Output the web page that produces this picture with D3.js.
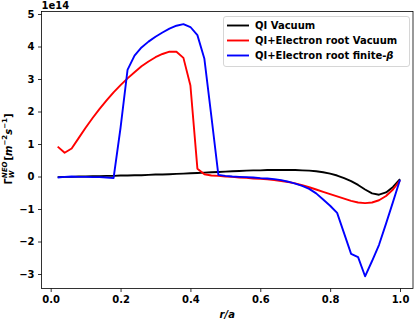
<!DOCTYPE html>
<html>
<head>
<meta charset="utf-8">
<script src="https://cdn.jsdelivr.net/npm/d3@7"></script>
<style>
  body { margin: 0; background: #fff; }
  svg text { font-family: "DejaVu Sans", sans-serif; font-weight: bold; }
</style>
</head>
<body>
<div id="chart"></div>
<script>
// r/a grid
var rVals = [0.02, 0.04, 0.06, 0.08, 0.10, 0.12, 0.14, 0.16, 0.18, 0.20,
             0.22, 0.24, 0.26, 0.28, 0.30, 0.32, 0.34, 0.36, 0.38, 0.40,
             0.42, 0.44, 0.46, 0.48, 0.50, 0.52, 0.54, 0.56, 0.58, 0.60,
             0.62, 0.64, 0.66, 0.68, 0.70, 0.72, 0.74, 0.76, 0.78, 0.80,
             0.82, 0.84, 0.86, 0.88, 0.90, 0.92, 0.94, 0.96, 0.98, 1.00];

// flux values in units of 1e14
var qiVacuum = [-0.02, -0.01, -0.01, 0.00, 0.00, 0.01, 0.01, 0.02, 0.02, 0.03,
                0.03, 0.04, 0.04, 0.05, 0.06, 0.06, 0.07, 0.08, 0.09, 0.10,
                0.11, 0.12, 0.13, 0.14, 0.15, 0.16, 0.17, 0.18, 0.19, 0.19,
                0.20, 0.20, 0.20, 0.20, 0.20, 0.19, 0.18, 0.16, 0.13, 0.09,
                0.03, -0.05, -0.14, -0.26, -0.40, -0.52, -0.56, -0.49, -0.32, -0.08];

var erVacuum = [0.92, 0.73, 0.86, 1.18, 1.50, 1.80, 2.08, 2.34, 2.59, 2.81,
                3.02, 3.21, 3.39, 3.54, 3.67, 3.77, 3.84, 3.84, 3.65, 2.80,
                0.24, 0.07, 0.03, 0.02, 0.00, -0.01, -0.03, -0.04, -0.06, -0.07,
                -0.09, -0.11, -0.14, -0.17, -0.21, -0.27, -0.33, -0.40, -0.47, -0.54,
                -0.61, -0.68, -0.75, -0.80, -0.82, -0.80, -0.73, -0.60, -0.40, -0.12];

var erFiniteBeta = [-0.03, -0.01, 0.00, -0.01, -0.01, -0.02, -0.02, -0.03, -0.05, 1.50,
                    3.28, 3.72, 3.97, 4.15, 4.30, 4.43, 4.55, 4.64, 4.69, 4.60,
                    4.35, 3.62, 1.85, 0.05, 0.02, 0.00, -0.01, -0.02, -0.03, -0.05,
                    -0.06, -0.08, -0.11, -0.16, -0.22, -0.29, -0.38, -0.52, -0.71, -0.90,
                    -1.12, -1.75, -2.38, -2.48, -3.07, -2.60, -2.10, -1.45, -0.78, -0.10];

var seriesNames = ["QI Vacuum", "QI+Electron root Vacuum", "QI+Electron root finite-"];
var seriesColors = ["#000000", "#ff0000", "#0000ff"];
var xTicks = [0.0, 0.2, 0.4, 0.6, 0.8, 1.0];
var yTicks = [-3, -2, -1, 0, 1, 2, 3, 4, 5];

var width = 416,
    height = 322,
    padL = 41.5, padR = 413, padT = 11.5, padB = 288.5;

var svg = d3.select('#chart').append('svg')
  .attr('width', width)
  .attr('height', height);

var x = d3.scaleLinear().domain([-0.0263, 1.0372]).range([padL, padR]);
var y = d3.scaleLinear().domain([-3.446, 5.077]).range([padB, padT]);

var series = [qiVacuum, erVacuum, erFiniteBeta];

var line = d3.line()
  .x(function(d, i) { return x(rVals[i]); })
  .y(function(d) { return y(d); });

var plot = svg.append('g');
series.forEach(function(s, k) {
  plot.append('path')
    .datum(s)
    .attr('d', line)
    .attr('fill', 'none')
    .attr('stroke', seriesColors[k])
    .attr('stroke-width', 1.9)
    .attr('stroke-linejoin', 'round');
});

// axes
var xAxis = svg.append('g')
  .attr('transform', 'translate(0,' + padB + ')')
  .call(d3.axisBottom(x).tickValues(xTicks).tickFormat(d3.format('.1f')).tickSizeOuter(0).tickSize(3.5).tickPadding(3.5));
var yAxis = svg.append('g')
  .attr('transform', 'translate(' + padL + ',0)')
  .call(d3.axisLeft(y).tickValues(yTicks).tickFormat(function(d) { return d < 0 ? '\u2212' + Math.abs(d) : d; }).tickSizeOuter(0).tickSize(3.5).tickPadding(3.5));

[xAxis, yAxis].forEach(function(a) {
  a.select('.domain').remove();
  a.selectAll('line').attr('stroke', '#000').attr('stroke-width', 0.8);
  a.selectAll('text').attr('font-size', 10).attr('font-family', '"DejaVu Sans", sans-serif').attr('font-weight', 'bold').attr('fill', '#000');
});

// frame
svg.append('rect')
  .attr('x', padL).attr('y', padT)
  .attr('width', padR - padL).attr('height', padB - padT)
  .attr('fill', 'none').attr('stroke', '#000').attr('stroke-width', 0.8);

// offset text
svg.append('text').attr('x', padL).attr('y', 8.5).attr('font-size', 10).text('1e14');

// x label
svg.append('text')
  .attr('x', (padL + padR) / 2).attr('y', 318)
  .attr('text-anchor', 'middle').attr('font-size', 10)
  .attr('font-style', 'italic').text('r/a');

// y label built from pieces
var yl = svg.append('g');
var yInner = yl.append('g');
var cursor = 0;
function piece(txt, size, dy, italic) {
  var t = yInner.append('text').attr('x', cursor).attr('y', dy)
    .attr('font-size', size).attr('font-style', italic ? 'italic' : 'normal').text(txt);
  return t.node().getComputedTextLength();
}
cursor += piece('\u0393', 10, 0, false);
var wSub = piece('W', 7, 2.5, true);
var wSup = piece('NEO', 7, -4.5, true);
cursor += Math.max(wSub, wSup) + 1;
cursor += piece('[', 10, 0, false);
cursor += piece('m', 10, 0, true);
cursor += piece('\u22122', 7, -4.5, false);
cursor += piece('s', 10, 0, true);
cursor += piece('\u22121', 7, -4.5, false);
cursor += piece(']', 10, 0, false);
yInner.attr('transform', 'translate(' + (-cursor / 2) + ',0)');
yl.attr('transform', 'translate(11.5,' + 149 + ') rotate(-90)');

// legend
var lg = svg.append('g');
lg.append('rect')
  .attr('x', 223.5).attr('y', 16.5).attr('width', 186).attr('height', 50)
  .attr('rx', 2.5).attr('fill', '#fff').attr('fill-opacity', 0.8)
  .attr('stroke', '#cccccc').attr('stroke-width', 0.8);
seriesNames.forEach(function(name, k) {
  var yy = 25.5 + k * 15;
  lg.append('line')
    .attr('x1', 227).attr('x2', 249).attr('y1', yy).attr('y2', yy)
    .attr('stroke', seriesColors[k]).attr('stroke-width', 1.9);
  var t = lg.append('text').attr('x', 255).attr('y', yy + 3.6).attr('font-size', 10).text(name);
  if (k === 2) t.append('tspan').attr('font-style', 'italic').text('\u03b2');
});
</script>
</body>
</html>
